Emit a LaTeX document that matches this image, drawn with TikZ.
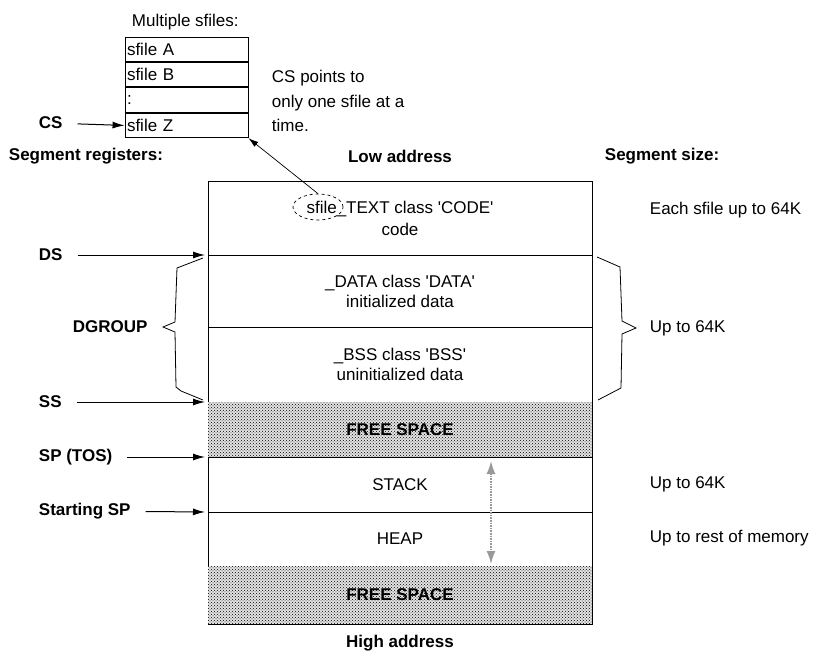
\documentclass[tikz,border=0pt]{standalone}
\usepackage{fontspec}
\setmainfont{Liberation Sans}
\usetikzlibrary{arrows.meta,patterns,positioning,shapes.geometric}

\newcommand{\plainsize}{\fontsize{17}{20}\selectfont}

\tikzset{
  lbl/.style={anchor=west,inner sep=0.75pt,font=\plainsize},
  reglbl/.style={anchor=west,inner sep=0.75pt,font=\plainsize\bfseries},
  regarrow/.style={-{Latex[length=12pt,width=7pt]},line width=1pt,shorten <=14pt},
  seg/.style={minimum width=384pt,minimum height=#1,inner sep=0pt,outer sep=0pt,align=center,font=\plainsize},
  free/.style={preaction={fill=gray!22},pattern=crosshatch dots,pattern color=black},
  filerow/.style={draw,line width=0.9pt,minimum height=24.5pt,text width=119pt,inner sep=2pt,font=\plainsize,align=left},
  brace/.style={line width=0.8pt},
  edge/.style={line width=1pt},
}

\begin{document}
\begin{tikzpicture}[x=1pt,y=1pt,yscale=-1]
\useasboundingbox[fill=white] (0,0) rectangle (828,658);

\node[lbl] (multi) at (131,22) {Multiple sfiles:};
\node[filerow] (filea) at (186.5,49.25) {sfile A};
\node[filerow,below=0pt of filea] (fileb) {sfile B};
\node[filerow,below=0pt of fileb] (filedots) {:};
\node[filerow,below=0pt of filedots] (filez) {sfile Z};
\node[lbl,align=left,font=\fontsize{17}{24.5}\selectfont] (cspoints) at (271,101) {CS points to\\only one sfile at a\\time.};

\node[reglbl] (cs) at (38,123) {CS};
\draw[regarrow] (cs) -- (filez.west);

\node[reglbl] (segreg) at (8,156) {Segment registers:};
\node[font=\plainsize\bfseries] (lowaddr) at (400,156) {Low address};
\node[reglbl] (segsize) at (604,156) {Segment size:};

\node[seg=73,font=\fontsize{17}{22}\selectfont] (code) at (400,218.5) {sfile\_TEXT class \textquotesingle CODE\textquotesingle\\code};
\node[seg=72,below=0pt of code] (data) {\_DATA class \textquotesingle DATA\textquotesingle\\initialized data};
\node[seg=75,below=0pt of data] (bss) {\_BSS class \textquotesingle BSS\textquotesingle\\uninitialized data};
\node[seg=55,free,font=\plainsize\bfseries,below=0pt of bss] (free1) {FREE SPACE};
\node[seg=55,below=0pt of free1] (stack) {STACK};
\node[seg=54,below=0pt of stack] (heap) {HEAP};
\node[seg=58,free,font=\plainsize\bfseries,below=0pt of heap] (free2) {FREE SPACE};

\draw[edge] (code.north west) -- (code.north east) -- (free2.south east) -- (free2.south west);
\draw[edge] (code.north west) -- (bss.south west) (stack.north west) -- (heap.south west);
\foreach \c in {code,data,free1,stack}
  \draw[edge] (\c.south west) -- (\c.south east);

\node[font=\plainsize\bfseries] (highaddr) at (400,643) {High address};

\node[ellipse,draw,dashed,line width=0.7pt,minimum width=50pt,minimum height=26pt] (sfileoval) at (318,207) {};
\draw[-{Latex[length=10pt,width=6pt]},line width=0.7pt] (sfileoval.north) -- (filez.south east);

\node[reglbl] (ds) at (38,255) {DS};
\draw[regarrow] (ds) -- ([xshift=-3pt]data.north west);
\node[reglbl] (ss) at (38,402) {SS};
\draw[regarrow] (ss) -- ([xshift=-3pt]free1.north west);
\node[reglbl] (sptos) at (38,457) {SP (TOS)};
\draw[regarrow] (sptos) -- ([xshift=-3pt]stack.north west);
\node[reglbl] (startsp) at (38,511) {Starting SP};
\draw[regarrow] (startsp) -- ([xshift=-3pt]heap.north west);

\node[reglbl] (dgroup) at (72,327) {DGROUP};
\draw[brace] (203,258) -- (177,268) -- (175,322) -- (163,327) -- (175,332) -- (176,387) -- (181,391) -- (203,400);
\draw[brace] (597,257) -- (620,267) -- (622,321) -- (636,328) -- (622,334) -- (621,388) -- (598,400);

\node[lbl] (eachsfile) at (649,210) {Each sfile up to 64K};
\node[lbl] (uptodata) at (649,328) {Up to 64K};
\node[lbl] (uptostack) at (649,484) {Up to 64K};
\node[lbl] (uptorest) at (649,538) {Up to rest of memory};

\coordinate (stacktop) at (491,461);
\coordinate (heapend) at (491,564);
\draw[gray!80,densely dotted,line width=1.6pt,{Latex[length=13pt,width=9pt]}-{Latex[length=13pt,width=9pt]}] (stacktop) -- (heapend);

\end{tikzpicture}
\end{document}
